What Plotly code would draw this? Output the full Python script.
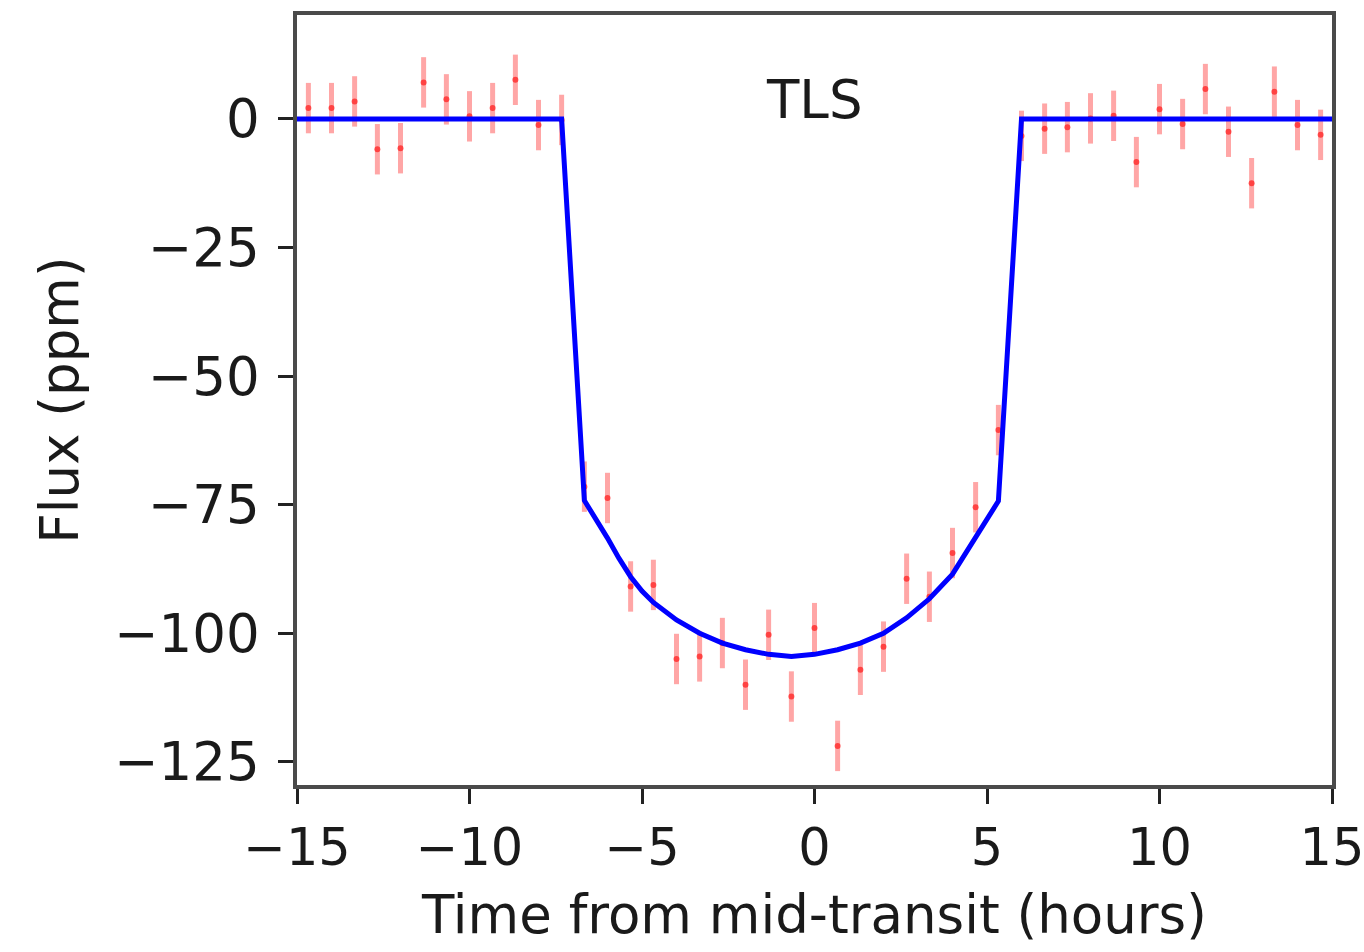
import plotly.graph_objects as go

# Binned data (time from mid-transit in hours, flux in ppm)
time_h = [-14.67, -14.0, -13.33, -12.67, -12.0, -11.33, -10.67, -10.0, -9.33, -8.67,
          -8.0, -7.33, -6.67, -6.0, -5.33, -4.67, -4.0, -3.33, -2.67, -2.0,
          -1.33, -0.67, 0.0, 0.67, 1.33, 2.0, 2.67, 3.33, 4.0, 4.67,
          5.33, 6.0, 6.67, 7.33, 8.0, 8.67, 9.33, 10.0, 10.67, 11.33,
          12.0, 12.67, 13.33, 14.0, 14.67]
flux_ppm = [2.1, 2.1, 3.4, -5.9, -5.7, 7.1, 3.8, 0.5, 2.1, 7.6,
            -1.2, -0.2, -71.5, -73.7, -90.9, -90.6, -105.0, -104.5, -101.9, -110.0,
            -100.3, -112.3, -99.0, -121.9, -107.1, -102.6, -89.4, -92.9, -84.4, -75.5,
            -60.5, -3.3, -1.9, -1.6, 0.1, 0.6, -8.4, 1.9, -1.0, 5.8,
            -2.5, -12.5, 5.3, -1.2, -3.1]
flux_err = [4.9] * 45

# TLS model curve
model_t = [-15.0, -7.33, -6.67, -6.33, -6.0, -5.67, -5.33, -5.0, -4.67, -4.0,
           -3.33, -2.67, -2.0, -1.33, -0.67, 0.0, 0.67, 1.33, 2.0, 2.67,
           3.33, 4.0, 4.33, 4.67, 5.0, 5.33, 6.0, 15.0]
model_f = [0.0, 0.0, -74.2, -77.8, -81.5, -85.4, -89.0, -91.8, -94.0, -97.4,
           -100.0, -101.9, -103.2, -104.1, -104.5, -104.1, -103.2, -101.9, -100.0, -97.0,
           -93.3, -88.5, -85.0, -81.2, -77.8, -74.3, 0.0, 0.0]

x_ticks = [-15, -10, -5, 0, 5, 10, 15]
y_ticks = [0, -25, -50, -75, -100, -125]

FONT = "DejaVu Sans"
FS = 53
TXT = "#1a1a1a"

fig = go.Figure()
fig.add_trace(go.Scatter(
    x=time_h, y=flux_ppm, mode="markers",
    marker=dict(color="rgba(255,0,0,0.6)", size=6),
    error_y=dict(type="data", array=flux_err, visible=True,
                 color="rgba(255,0,0,0.35)", thickness=5, width=0),
    showlegend=False,
))
fig.add_trace(go.Scatter(
    x=model_t, y=model_f, mode="lines",
    line=dict(color="#0000ff", width=5),
    showlegend=False,
))

fig.add_annotation(x=0.5, y=0.89, xref="paper", yref="paper", text="TLS",
                   showarrow=False, font=dict(family=FONT, size=FS, color=TXT),
                   xanchor="center", yanchor="middle")

axis_common = dict(
    showgrid=False, zeroline=False, showline=True, mirror=True,
    linecolor="#4a4a4a", linewidth=3.5, automargin=False,
    ticks="outside", ticklen=15, tickwidth=2.5, tickcolor="#222",
    ticklabeloverflow="allow",
)

fig.update_xaxes(range=[-15, 15], tickvals=x_ticks,
                 tickfont=dict(family=FONT, size=51, color=TXT),
                 title=dict(text="Time from mid-transit (hours)",
                            font=dict(family=FONT, size=FS, color=TXT), standoff=21),
                 **axis_common)
fig.update_yaxes(range=[-129.5, 20.2], tickvals=y_ticks, ticklabelstandoff=8,
                 tickfont=dict(family=FONT, size=FS, color=TXT),
                 title=dict(text="Flux (ppm)",
                            font=dict(family=FONT, size=FS, color=TXT), standoff=20),
                 **axis_common)

fig.update_layout(
    width=1364, height=952,
    margin=dict(l=297, r=32, t=15, b=167),
    paper_bgcolor="white", plot_bgcolor="white",
)

# remove the browser's default body margin so the figure fills the window exactly
fig.write_html("out.html",
               config={"displayModeBar": False},
               post_script="document.body.style.margin='0';document.body.style.overflow='hidden';")
